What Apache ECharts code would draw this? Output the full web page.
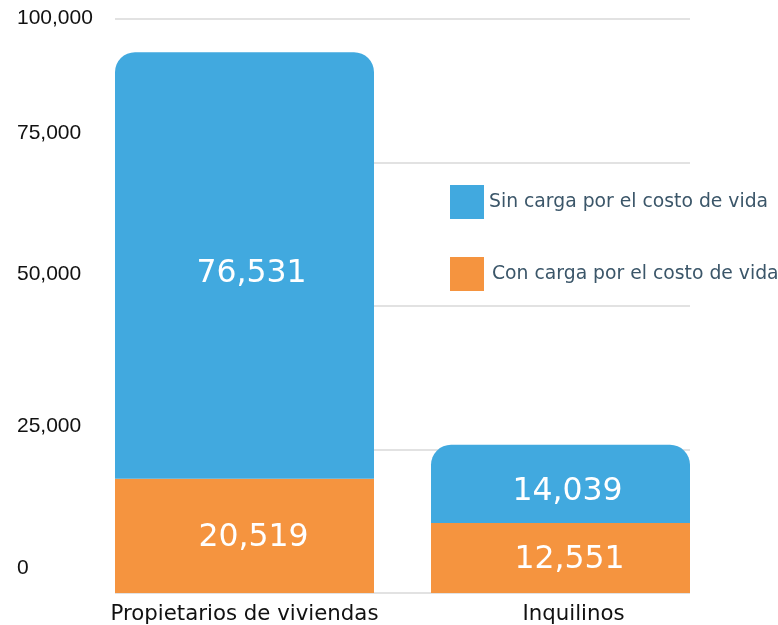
<!DOCTYPE html>
<html>
<head>
<meta charset="utf-8">
<script src="https://cdn.jsdelivr.net/npm/echarts@6/dist/echarts.min.js"></script>
<style>
  html, body { margin: 0; padding: 0; background: #fff; }
  #chart { width: 778px; height: 625px; }
</style>
</head>
<body>
<div id="chart"></div>
<script>
// Data
const categories = ['Propietarios de viviendas', 'Inquilinos'];
const seriesNames = ['Sin carga por el costo de vida', 'Con carga por el costo de vida'];
const sinCarga = [76531, 14039];
const conCarga = [20519, 12551];
const tickValues = [0, 25000, 50000, 75000, 100000];

const BLUE = '#41a9df';
const ORANGE = '#f5943f';

// the printed tick labels sit a little above their grid lines in the source
const labelLift = { 0: 49, 25000: 46, 50000: 64, 75000: 58, 100000: 2 };

const richLabels = {};
tickValues.forEach((v, i) => {
    richLabels['t' + i] = {
        fontFamily: 'Liberation Sans, Arial, sans-serif',
        fontSize: 21,
        color: '#111',
        padding: [0, 0, labelLift[v], 0],
    };
});

const chart = echarts.init(document.getElementById('chart'), null, { renderer: 'canvas' });

const option = {
    backgroundColor: '#fff',
    animation: false,
    legend: {
        orient: 'vertical',
        left: 450,
        top: 185,
        padding: 0,
        itemWidth: 34,
        itemHeight: 34,
        itemGap: 38,
        icon: 'rect',
        selectedMode: false,
        data: [
            { name: seriesNames[0] },
            { name: seriesNames[1], textStyle: { padding: [12, 0, 0, 3] } },
        ],
        textStyle: {
            fontFamily: 'DejaVu Sans, Verdana, sans-serif',
            fontSize: 18.8,
            color: '#3b5669',
        },
    },
    grid: [
        // grid for the grid lines and tick labels
        { left: 115, right: 88, top: 19, bottom: 32 },
        // grid for the bars
        { left: 86.5, right: 59.5, top: 19, bottom: 32 },
    ],
    xAxis: [
        {
            gridIndex: 0, type: 'category', data: categories,
            axisLine: { show: false }, axisTick: { show: false }, axisLabel: { show: false },
        },
        {
            gridIndex: 1, type: 'category',
            data: categories,
            axisLine: { show: false },
            axisTick: { show: false },
            axisLabel: {
                interval: 0,
                hideOverlap: false,
                margin: 11,
                fontFamily: 'DejaVu Sans, Verdana, sans-serif',
                fontSize: 21.3,
                color: '#111',
                formatter: function (v, i) {
                    return i === 1 ? '{shift|' + v + '}' : v;
                },
                rich: {
                    shift: {
                        fontFamily: 'DejaVu Sans, Verdana, sans-serif',
                        fontSize: 21.3,
                        color: '#111',
                        padding: [0, 0, 0, 26],
                    },
                },
            },
        },
    ],
    yAxis: [
        {
            gridIndex: 0, type: 'value', min: 0, max: 100000, interval: 25000,
            axisLine: { show: false },
            axisTick: { show: false },
            splitLine: { lineStyle: { color: '#d8d8d8', width: 1.5 } },
            axisLabel: {
                align: 'left',
                margin: 98,
                formatter: function (v) {
                    const i = tickValues.indexOf(v);
                    return '{t' + i + '|' + v.toLocaleString('en-US') + '}';
                },
                rich: richLabels,
            },
        },
        {
            gridIndex: 1, type: 'value', min: 0, max: 103000,
            show: false,
            splitLine: { show: false },
        },
    ],
    series: [
        {
            name: seriesNames[1],
            type: 'bar',
            stack: 'total',
            xAxisIndex: 1,
            yAxisIndex: 1,
            barWidth: 259,
            data: conCarga,
            itemStyle: { color: ORANGE },
            label: {
                show: true,
                position: 'inside',
                offset: [9, 2],
                formatter: p => p.value.toLocaleString('en-US'),
                fontFamily: 'DejaVu Sans, Verdana, sans-serif',
                fontSize: 31.5,
                color: '#fff',
            },
        },
        {
            name: seriesNames[0],
            type: 'bar',
            stack: 'total',
            xAxisIndex: 1,
            yAxisIndex: 1,
            barWidth: 259,
            data: sinCarga,
            itemStyle: { color: BLUE, borderRadius: [20, 20, 0, 0] },
            label: {
                show: true,
                position: 'inside',
                offset: [7, 8],
                formatter: p => p.value.toLocaleString('en-US'),
                fontFamily: 'DejaVu Sans, Verdana, sans-serif',
                fontSize: 31.5,
                color: '#fff',
            },
        },
    ],
};

chart.setOption(option);
</script>
</body>
</html>
